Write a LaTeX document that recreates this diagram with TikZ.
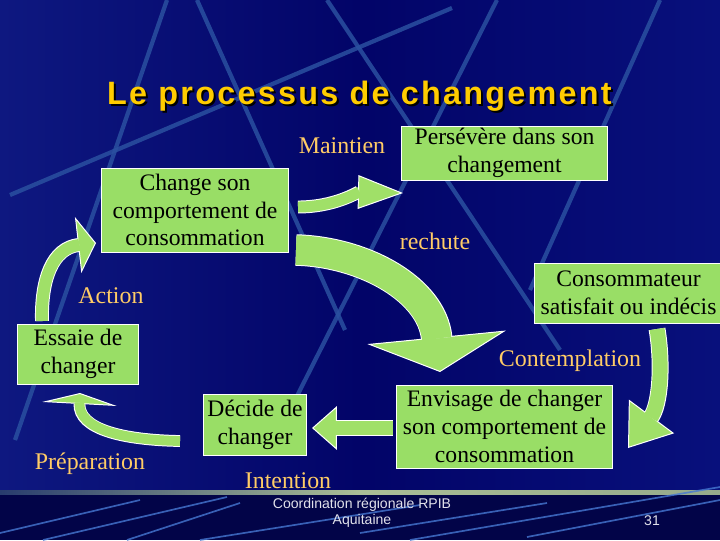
\documentclass[tikz,border=0pt]{standalone}
\usepackage{fontspec}
\setmainfont{Liberation Serif}
\newfontfamily\titlefont{Liberation Sans}[LetterSpace=7]
\newfontfamily\footfont{Liberation Sans}
\usetikzlibrary{arrows.meta}

\definecolor{bgleft}{RGB}{14,24,128}
\definecolor{bgmid}{RGB}{2,4,104}
\definecolor{bgright}{RGB}{8,16,124}
\definecolor{footbg}{RGB}{2,4,72}
\definecolor{lineblue}{RGB}{42,80,160}
\definecolor{streakblue}{RGB}{70,120,210}
\definecolor{boxgreen}{RGB}{153,222,102}
\definecolor{arrowgreen}{RGB}{160,224,104}
\definecolor{titleyellow}{RGB}{255,204,0}
\definecolor{labelyellow}{RGB}{255,204,102}

\tikzset{
  stage/.style={fill=boxgreen, draw=white, line width=0.7pt, align=center,
    inner sep=0pt, text=black, font=\fontsize{16.8}{19.8}\selectfont},
  phase/.style={text=labelyellow, inner sep=0pt, font=\fontsize{17}{20}\selectfont},
  bgline/.style={draw=lineblue, line width=3pt, opacity=0.85},
  streak/.style={draw=streakblue, line width=1.2pt, opacity=0.8},
}

% green block arrow: body width, head length, head width, path
\newcommand{\greenarrow}[4]{%
  \draw[white, line width=#1+1.4pt, shorten >=#2-0.5pt] #4;
  \draw[arrowgreen, line width=0.1pt,
    -{Triangle[length=#2, width=#3, line width=0.7pt, color=white, fill=arrowgreen]}] #4;
  \draw[arrowgreen, line width=#1, shorten >=#2-1pt] #4;
}

\begin{document}
\begin{tikzpicture}[x=0.025cm, y=-0.025cm]
  \useasboundingbox (0,0) rectangle (720,540);
  % background
  \shade[left color=bgleft, right color=bgright, middle color=bgmid] (0,0) rectangle (720,492);
  \fill[footbg] (0,492) rectangle (720,540);
  \foreach \xa/\ya/\xb/\yb in {167/0/15/440, 197/0/345/330, 10/195/452/8,
      327/0/560/350, 497/0/295/400, 660/0/530/290}
    \draw[bgline] (\xa,\ya) -- (\xb,\yb);
  % footer
  \shade[left color={rgb,255:red,40;green,60;blue,110}, right color={rgb,255:red,150;green,170;blue,140},
    middle color={rgb,255:red,170;green,190;blue,150}] (0,490.5) rectangle (720,494.5);
  \foreach \xa/\ya/\xb/\yb in {0/533/140/500, 43/540/227/497, 127/540/240/503,
      200/540/420/505, 360/533/547/503, 410/540/720/487, 527/537/720/500}
    \draw[streak] (\xa,\ya) -- (\xb,\yb);

  % title
  \node[text=black, font=\titlefont\bfseries\fontsize{23}{27}\selectfont, anchor=base]
    (titleshadow) at (361.5,106) {Le processus de changement};
  \node[text=titleyellow, font=\titlefont\bfseries\fontsize{23}{27}\selectfont, anchor=base]
    (title) at (359.5,104) {Le processus de changement};

  % arrows
  \coordinate (a1s) at (298,207);
  \coordinate (a1e) at (403,193);
  \greenarrow{7.8pt}{32pt}{24pt}{(a1s) .. controls (335,207) and (358,192) .. (a1e)}
  \coordinate (a2s) at (296,250);
  \coordinate (a2e) at (440,372);
  \greenarrow{21pt}{24.8pt}{99pt}{(a2s) .. controls (365,252) and (432,290) .. (a2e)}
  \coordinate (a3s) at (657,329);
  \coordinate (a3e) at (628,448);
  \greenarrow{10.6pt}{28pt}{40pt}{(a3s) .. controls (663,365) and (660,405) .. (a3e)}
  \coordinate (a4s) at (393,428);
  \coordinate (a4e) at (312,428);
  \greenarrow{10pt}{17.7pt}{31pt}{(a4s) -- (a4e)}
  \coordinate (a5s) at (180,441);
  \coordinate (a5e) at (80,393);
  \greenarrow{7pt}{7.8pt}{53pt}{(a5s) .. controls (125,440) and (78,430) .. (a5e)}
  \coordinate (a6s) at (42,321);
  \coordinate (a6e) at (96,243);
  \greenarrow{8.5pt}{12.8pt}{40pt}{(a6s) .. controls (41,280) and (52,248) .. (a6e)}

  % stages
  \node[stage, minimum width=5.125cm, minimum height=1.35cm] (pers) at (504.5,153)
    {Persévère dans son\\changement};
  \node[stage, minimum width=4.65cm, minimum height=2.1cm] (chg) at (195,210)
    {Change son\\comportement de\\consommation};
  \node[stage, minimum width=4.675cm, minimum height=1.5cm] (cons) at (628.5,293)
    {Consommateur\\satisfait ou indécis};
  \node[stage, minimum width=3cm, minimum height=1.5cm] (ess) at (78,354)
    {Essaie de\\changer};
  \node[stage, minimum width=5.375cm, minimum height=2.075cm] (env) at (504.5,426.5)
    {Envisage de changer\\son comportement de\\consommation};
  \node[stage, minimum width=2.55cm, minimum height=1.525cm] (dec) at (255,424.5)
    {Décide de\\changer};

  % phases
  \node[phase] (maint) at (342,146) {Maintien};
  \node[phase] (rech) at (435,241) {rechute};
  \node[phase] (act) at (111,296) {Action};
  \node[phase] (contemp) at (570,361) {Contemplation};
  \node[phase] (prep) at (90,464) {Préparation};
  \node[phase] (intent) at (288,481) {Intention};

  % footer text
  \node[text={rgb,255:red,225;green,225;blue,235}, align=center,
    font=\footfont\fontsize{10}{11.3}\selectfont] (foot) at (362,513)
    {Coordination régionale RPIB\\Aquitaine};
  \node[text={rgb,255:red,225;green,225;blue,235}, font=\footfont\fontsize{10}{12}\selectfont]
    (page) at (652,521) {31};
\end{tikzpicture}
\end{document}
